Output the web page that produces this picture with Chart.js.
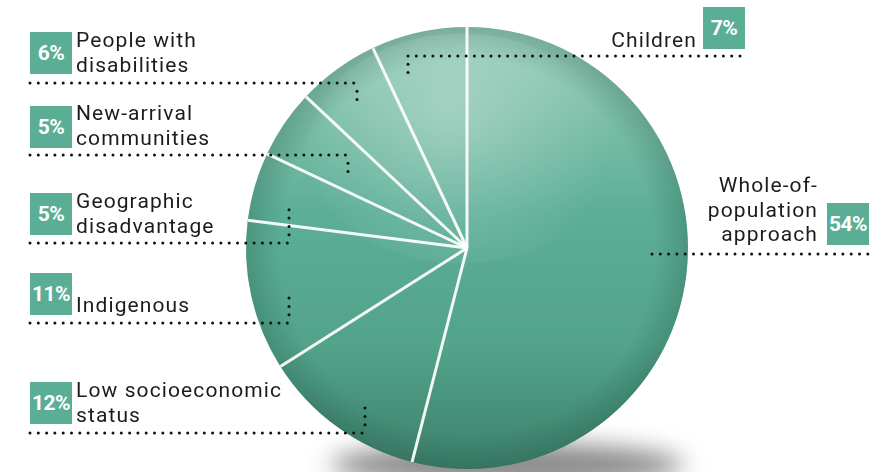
<!DOCTYPE html>
<html>
<head>
<meta charset="utf-8">
<script src="https://cdn.jsdelivr.net/npm/chart.js@4/dist/chart.umd.min.js"></script>
<style>
  body { margin: 0; background: #fff; }
  #wrap { position: relative; width: 896px; height: 472px; overflow: hidden; }
  .box { position: absolute; width: 42px; height: 42px; background: #5aae96; color: #fff;
         font: bold 21px Roboto, sans-serif; letter-spacing: -0.6px; display: flex;
         align-items: center; justify-content: center; }
  .txt { position: absolute; font: 21px Roboto, sans-serif; color: #1c1c1c; letter-spacing: 1.1px;
         line-height: 24.5px; white-space: nowrap; }
</style>
</head>
<body>
<div id="wrap"><canvas id="pie" width="896" height="472"></canvas></div>
<script>
const categories = ['Whole-of-population approach', 'Low socioeconomic status', 'Indigenous',
  'Geographic disadvantage', 'New-arrival communities', 'People with disabilities', 'Children'];
const shares = [54, 12, 11, 5, 5, 6, 7];
const labelLines = [['Whole-of-', 'population', 'approach'], ['Low socioeconomic', 'status'],
  ['Indigenous'], ['Geographic', 'disadvantage'], ['New-arrival', 'communities'],
  ['People with', 'disabilities'], ['Children']];

// where each callout sits (layout only)
const callouts = [
  { side: 'right', boxX: 827, boxY: 203, textX: 818, textY: 173, lineY: 254, x0: 652, x1: 868 },
  { side: 'left', boxX: 30, boxY: 382, textX: 76, textY: 378, lineY: 433, x0: 30, x1: 365, elbowY: 408 },
  { side: 'left', boxX: 30, boxY: 273, textX: 76, textY: 293, lineY: 323, x0: 30, x1: 289, elbowY: 298 },
  { side: 'left', boxX: 30, boxY: 193, textX: 76, textY: 189, lineY: 243, x0: 30, x1: 289, elbowY: 202 },
  { side: 'left', boxX: 30, boxY: 106, textX: 76, textY: 101, lineY: 155, x0: 30, x1: 348, elbowY: 178 },
  { side: 'left', boxX: 30, boxY: 32, textX: 76, textY: 28, lineY: 83, x0: 30, x1: 357, elbowY: 105 },
  { side: 'right', boxX: 703, boxY: 7, textX: 697, textY: 28, lineY: 56, x0: 408, x1: 745, elbowX: 408, elbowY: 73 },
];

const wrap = document.getElementById('wrap');
callouts.forEach((c, i) => {
  const box = document.createElement('div');
  box.className = 'box';
  box.style.left = c.boxX + 'px';
  box.style.top = c.boxY + 'px';
  box.textContent = shares[i] + '%';
  wrap.appendChild(box);
  const t = document.createElement('div');
  t.className = 'txt';
  t.style.top = c.textY + 'px';
  if (c.side === 'left') t.style.left = c.textX + 'px';
  else { t.style.right = (896 - c.textX) + 'px'; t.style.textAlign = 'right'; }
  t.innerHTML = labelLines[i].join('<br>');
  wrap.appendChild(t);
});

function dot(ctx, x, y) {
  ctx.beginPath();
  ctx.arc(x, y, 1.5, 0, Math.PI * 2);
  ctx.fill();
}

const sphereLook = {
  id: 'sphereLook',
  beforeDatasetsDraw(chart) {
    const arc = chart.getDatasetMeta(0).data[0];
    if (!arc) return;
    const { ctx } = chart;
    ctx.save();
    ctx.filter = 'blur(12px)';
    ctx.fillStyle = 'rgba(60,60,60,0.6)';
    ctx.beginPath();
    ctx.ellipse(arc.x + 40, arc.y + arc.outerRadius - 4, arc.outerRadius * 0.8, 22, 0, 0, Math.PI * 2);
    ctx.fill();
    ctx.restore();
  },
  afterDatasetsDraw(chart) {
    const meta = chart.getDatasetMeta(0);
    const arc = meta.data[0];
    if (!arc) return;
    const { ctx } = chart;
    const cx = arc.x, cy = arc.y, r = arc.outerRadius;
    ctx.save();
    ctx.beginPath();
    ctx.arc(cx, cy, r, 0, Math.PI * 2);
    ctx.clip();
    // darker rim
    const rim = ctx.createRadialGradient(cx, cy, r * 0.85, cx, cy, r);
    rim.addColorStop(0, 'rgba(30,80,65,0)');
    rim.addColorStop(1, 'rgba(30,80,65,0.25)');
    ctx.fillStyle = rim;
    ctx.fillRect(cx - r, cy - r, 2 * r, 2 * r);
    // glossy cap
    const g = ctx.createRadialGradient(cx - 20, cy - r * 0.6, 10, cx - 10, cy - r * 0.5, r * 0.7);
    g.addColorStop(0, 'rgba(255,255,255,0.26)');
    g.addColorStop(0.6, 'rgba(255,255,255,0.10)');
    g.addColorStop(1, 'rgba(255,255,255,0)');
    ctx.fillStyle = g;
    ctx.beginPath();
    ctx.ellipse(cx - 5, cy - r * 0.45, r * 0.7, r * 0.52, 0, 0, Math.PI * 2);
    ctx.fill();
    // white separators
    ctx.strokeStyle = 'rgba(255,255,255,0.92)';
    ctx.lineWidth = 3;
    meta.data.forEach(a => {
      ctx.beginPath();
      ctx.moveTo(cx, cy);
      ctx.lineTo(cx + Math.cos(a.startAngle) * r, cy + Math.sin(a.startAngle) * r);
      ctx.stroke();
    });
    ctx.restore();
  },
  afterDraw(chart) {
    const { ctx } = chart;
    ctx.save();
    ctx.fillStyle = '#111';
    callouts.forEach(c => {
      for (let x = c.x0; x <= c.x1 + 0.5; x += 8.3) dot(ctx, x, c.lineY);
      if (c.elbowY !== undefined) {
        const ex = c.elbowX !== undefined ? c.elbowX : c.x1;
        const step = c.elbowY > c.lineY ? 8.3 : -8.3;
        for (let y = c.lineY + step; step > 0 ? y <= c.elbowY + 0.5 : y >= c.elbowY - 0.5; y += step) dot(ctx, ex, y);
      }
    });
    ctx.restore();
  }
};

function sphereFill(context) {
  const area = context.chart.chartArea;
  if (!area) return '#5aae96';
  const g = context.chart.ctx.createLinearGradient(0, area.top, 0, area.bottom);
  g.addColorStop(0, '#98cdbb');
  g.addColorStop(0.2, '#7dbfa9');
  g.addColorStop(0.42, '#5cae96');
  g.addColorStop(0.72, '#52a38a');
  g.addColorStop(1, '#3d806b');
  return g;
}

new Chart(document.getElementById('pie'), {
  type: 'pie',
  data: {
    labels: categories,
    datasets: [{
      data: shares,
      backgroundColor: sphereFill,
      borderWidth: 0,
      hoverOffset: 0,
      offset: 0,
    }],
  },
  options: {
    responsive: false,
    animation: false,
    events: [],
    layout: { padding: { left: 246, right: 208, top: 27, bottom: 3 } },
    plugins: { legend: { display: false }, tooltip: { enabled: false } },
  },
  plugins: [sphereLook],
});
</script>
</body>
</html>
